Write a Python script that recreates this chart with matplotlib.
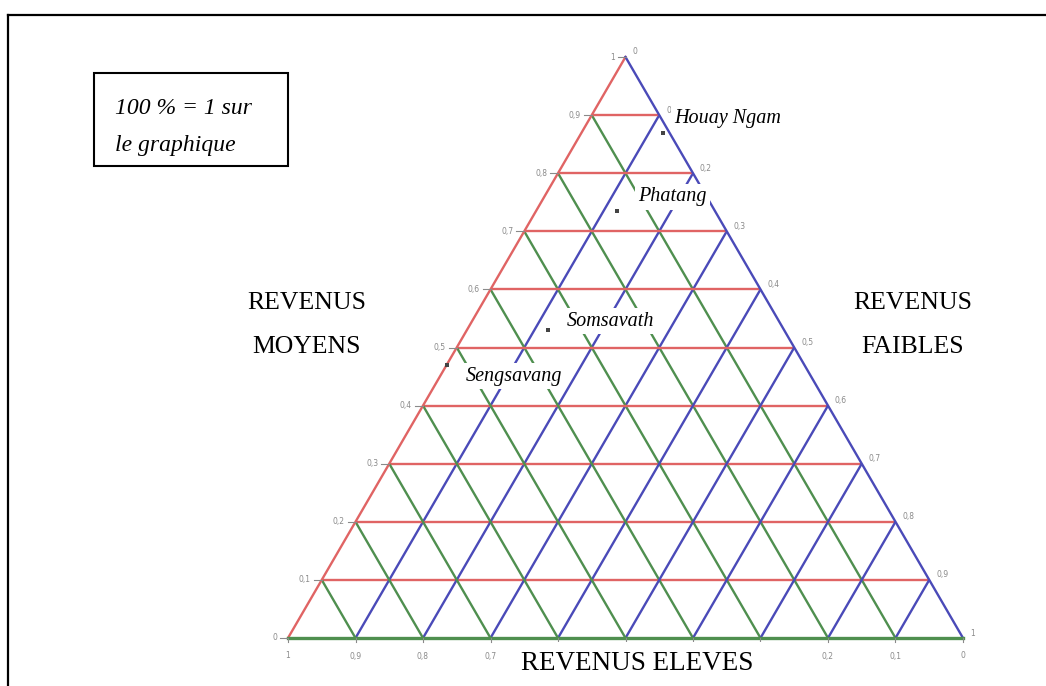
import matplotlib
matplotlib.use("Agg")
import matplotlib.pyplot as plt
from matplotlib.lines import Line2D
from matplotlib.patches import Rectangle
import numpy as np

# ---- data ----
villages = ["Houay Ngam", "Phatang", "Somsavath", "Sengsavang"]
rev_moyens = [0.87, 0.735, 0.53, 0.47]     # red axis (left)
rev_faibles = [0.12, 0.12, 0.12, 0.0]      # blue axis (right)
rev_eleves = [0.01, 0.145, 0.35, 0.53]     # green axis (bottom)
grid_levels = [0.1, 0.2, 0.3, 0.4, 0.5, 0.6, 0.7, 0.8, 0.9]
tick_values = [0, 0.1, 0.2, 0.3, 0.4, 0.5, 0.6, 0.7, 0.8, 0.9, 1]
tick_labels = ["0", "0,1", "0,2", "0,3", "0,4", "0,5", "0,6", "0,7", "0,8", "0,9", "1"]
# bottom labels hidden behind the "REVENUS ELEVES" caption in the reference
hidden_bottom = [0.3, 0.4, 0.5, 0.6]

RED = "#e06464"
GREEN = "#4f8f4f"
BLUE = "#4a4ab8"
TICKC = "#8a8a8a"

W, H = 1046, 686
fig = plt.figure(figsize=(W / 100, H / 100), dpi=100)
ax = fig.add_axes([0, 0, 1, 1])
ax.axis("off")
# pixel geometry of triangle: base 288..963 at y=638, apex height 581 px
X0, XB, Y0, YH = 288, 675, 638, 581
ax.set_xlim(-X0 / XB, (W - X0) / XB)
ax.set_ylim(-(H - Y0) / YH, Y0 / YH)


def tern(red, blue):
    red = np.asarray(red, float)
    blue = np.asarray(blue, float)
    return blue + red / 2.0, red


def P(px, py):
    return (px - X0) / XB, (Y0 - py) / YH


lw = 1.7
# grid lines
for k in grid_levels:
    # red: constant moyens, from left edge (blue=0) to right edge (green=0)
    x, y = tern([k, k], [0, 1 - k])
    ax.plot(x, y, color=RED, lw=lw, zorder=2, solid_capstyle="butt")
    # blue: constant faibles, from bottom (red=0) to right edge (green=0)
    x, y = tern([0, 1 - k], [k, k])
    ax.plot(x, y, color=BLUE, lw=lw, zorder=2, solid_capstyle="butt")
    # green: constant eleves, from bottom (red=0) to left edge (blue=0)
    x, y = tern([0, 1 - k], [1 - k, 0])
    ax.plot(x, y, color=GREEN, lw=lw, zorder=2, solid_capstyle="butt")

# triangle edges
x, y = tern([0, 1], [0, 0]); ax.plot(x, y, color=RED, lw=lw, zorder=3)
x, y = tern([1, 0], [0, 1]); ax.plot(x, y, color=BLUE, lw=lw, zorder=3)
x, y = tern([0, 0], [0, 1]); ax.plot(x, y, color=GREEN, lw=2.4, zorder=3)

tfs = 5.5
dx = 8 / XB
for v, lab in zip(tick_values, tick_labels):
    # left (moyens)
    x, y = tern(v, 0)
    ax.plot([x - dx, x], [y, y], color=TICKC, lw=0.8, zorder=3)
    ax.text(x - dx - 3 / XB, y, lab, fontsize=tfs, color=TICKC, ha="right", va="center")
    # right (faibles)
    x, y = tern(1 - v, v)
    ax.text(x + 7 / XB, y + 5 / YH, lab, fontsize=tfs, color=TICKC, ha="left", va="center")
    # bottom (eleves)
    x, y = tern(0, 1 - v)
    ax.plot([x, x], [y, y - 4 / YH], color=TICKC, lw=0.8, zorder=3)
    if not any(abs(v - h) < 1e-9 for h in hidden_bottom):
        ax.text(x, y - 18 / YH, lab, fontsize=tfs, color=TICKC, ha="center", va="center")

# data points
x, y = tern(rev_moyens, rev_faibles)
ax.scatter(x, y, marker="s", s=12, color="#444444", zorder=5, linewidths=0)

serif = ["Liberation Serif", "DejaVu Serif"]
label_pos = [(674, 119), (638, 197), (567, 321), (466, 376)]
for name, (px, py) in zip(villages, label_pos):
    ax.text(*P(px, py), name, fontsize=14.5, style="italic", family=serif,
            ha="left", va="center", zorder=6,
            bbox=dict(facecolor="white", edgecolor="none", pad=2.5))

ax.text(*P(307, 325), "REVENUS\nMOYENS", fontsize=18.5, family=serif, ha="center",
        va="center", linespacing=2.35, zorder=6)
ax.text(*P(913, 325), "REVENUS\nFAIBLES", fontsize=18.5, family=serif, ha="center",
        va="center", linespacing=2.35, zorder=6)
ax.text(*P(637, 663), "REVENUS ELEVES", fontsize=19.5, family=serif, ha="center",
        va="center", zorder=6,
        bbox=dict(facecolor="white", edgecolor="none", pad=6))

# info box
fig.patches.append(Rectangle((94 / W, 1 - 166 / H), (288 - 94) / W, (166 - 73) / H,
                             transform=fig.transFigure, fill=False,
                             edgecolor="black", lw=1.5))
fig.text(115 / W, 1 - 127 / H, "100 % = 1 sur\nle graphique", fontsize=17,
         style="italic", family=serif, ha="left", va="center", linespacing=2.0)

# outer frame (left and top)
fig.lines.append(Line2D([8 / W, 8 / W], [0, 1 - 15 / H], transform=fig.transFigure,
                        color="black", lw=1.6))
fig.lines.append(Line2D([8 / W, 1], [1 - 15 / H, 1 - 15 / H], transform=fig.transFigure,
                        color="black", lw=1.6))

fig.savefig("out.png", dpi=100)
